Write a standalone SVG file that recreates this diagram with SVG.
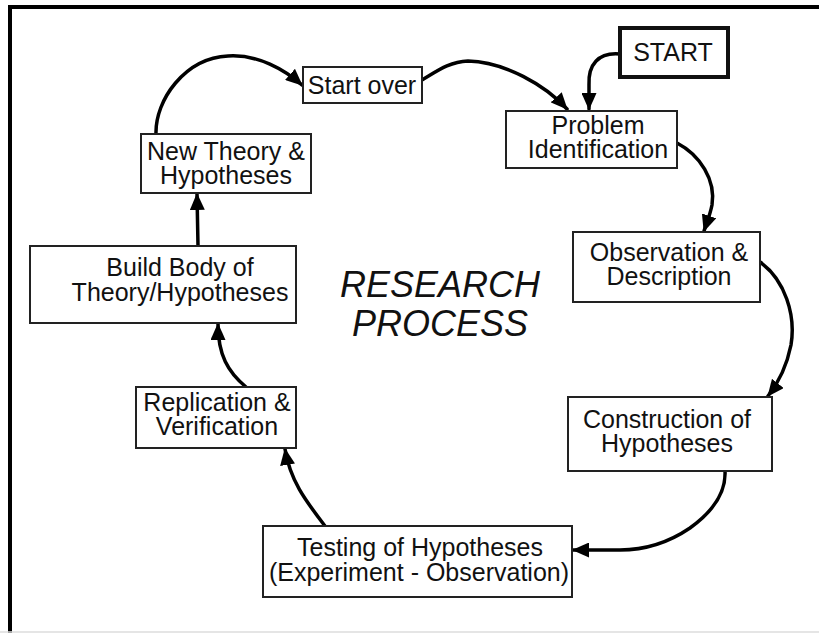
<svg xmlns="http://www.w3.org/2000/svg" width="819" height="633" viewBox="0 0 819 633">
<defs>
<style>
.box{fill:#fff;stroke:#222;stroke-width:2}
.start{fill:#fff;stroke:#111;stroke-width:4}
.t{font-family:"Liberation Sans",Arial,sans-serif;font-size:25px;fill:#111;text-anchor:middle}
.title{font-family:"Liberation Sans",Arial,sans-serif;font-size:36px;font-style:italic;fill:#111;text-anchor:middle}
.c{fill:none;stroke:#000;stroke-width:3.5;stroke-linecap:round;marker-end:url(#ah)}
</style>
<marker id="ah" markerUnits="userSpaceOnUse" markerWidth="17" markerHeight="15" refX="16" refY="7.5" orient="auto" viewBox="0 0 17 15">
<path d="M0,0 L17,7.5 L0,15 Z" fill="#000"/>
</marker>
</defs>
<rect x="0" y="0" width="819" height="633" fill="#fff"/>
<g id="frame">
<line x1="10" y1="7" x2="819" y2="7" stroke="#000" stroke-width="4"/>
<line x1="10" y1="5" x2="10" y2="633" stroke="#000" stroke-width="4"/>
<line x1="0" y1="632" x2="819" y2="632" stroke="#ddd" stroke-width="1.5"/>
</g>
<g id="connectors">
<path class="c" d="M620,54 C598,52 588,65 589,85 L589,109"/>
<path class="c" d="M422,80 C436,72 448,62 468,61 C505,62 545,85 567,109"/>
<path class="c" d="M677,143 C700,155 716,180 712,205 C710,215 707,222 704,231"/>
<path class="c" d="M760,262 C785,280 796,315 791,345 C787,365 779,382 768,396"/>
<path class="c" d="M725,471 C726,490 715,510 690,528 C665,545 640,550 620,550 L573,550"/>
<path class="c" d="M325,526 C305,500 290,480 285,449"/>
<path class="c" d="M246,387 C228,372 218,355 218,324"/>
<path class="c" d="M198,246 L197,194"/>
<path class="c" d="M156,134 C155,100 185,58 228,56 C258,54 285,70 302,85"/>
</g>
<g id="start">
<rect class="start" x="620" y="28" width="108" height="49"/>
<text class="t" x="673" y="61">START</text>
</g>
<g id="start-over">
<rect class="box" x="303" y="67" width="119" height="36"/>
<text class="t" x="362" y="94">Start over</text>
</g>
<g id="problem">
<rect class="box" x="506" y="111" width="171" height="57"/>
<text class="t" x="598" y="134">Problem<tspan x="598" dy="24">Identification</tspan></text>
</g>
<g id="observation">
<rect class="box" x="573" y="232" width="187" height="70"/>
<text class="t" x="669" y="261">Observation &amp;<tspan x="669" dy="24">Description</tspan></text>
</g>
<g id="construction">
<rect class="box" x="568" y="397" width="204" height="74"/>
<text class="t" x="667" y="428">Construction of<tspan x="667" dy="24">Hypotheses</tspan></text>
</g>
<g id="testing">
<rect class="box" x="263" y="526" width="309" height="71"/>
<text class="t" x="420" y="556">Testing of Hypotheses<tspan x="419" dy="25">(Experiment - Observation)</tspan></text>
</g>
<g id="replication">
<rect class="box" x="136" y="387" width="160" height="61"/>
<text class="t" x="217" y="411">Replication &amp;<tspan x="217" dy="24">Verification</tspan></text>
</g>
<g id="build">
<rect class="box" x="30" y="246" width="266" height="77"/>
<text class="t" x="180" y="276">Build Body of<tspan x="180" dy="25">Theory/Hypotheses</tspan></text>
</g>
<g id="new-theory">
<rect class="box" x="141" y="134" width="170" height="59"/>
<text class="t" x="226" y="160">New Theory &amp;<tspan x="226" dy="24">Hypotheses</tspan></text>
</g>
<g id="title">
<text class="title" x="440" y="297">RESEARCH<tspan x="440" dy="39">PROCESS</tspan></text>
</g>
</svg>
